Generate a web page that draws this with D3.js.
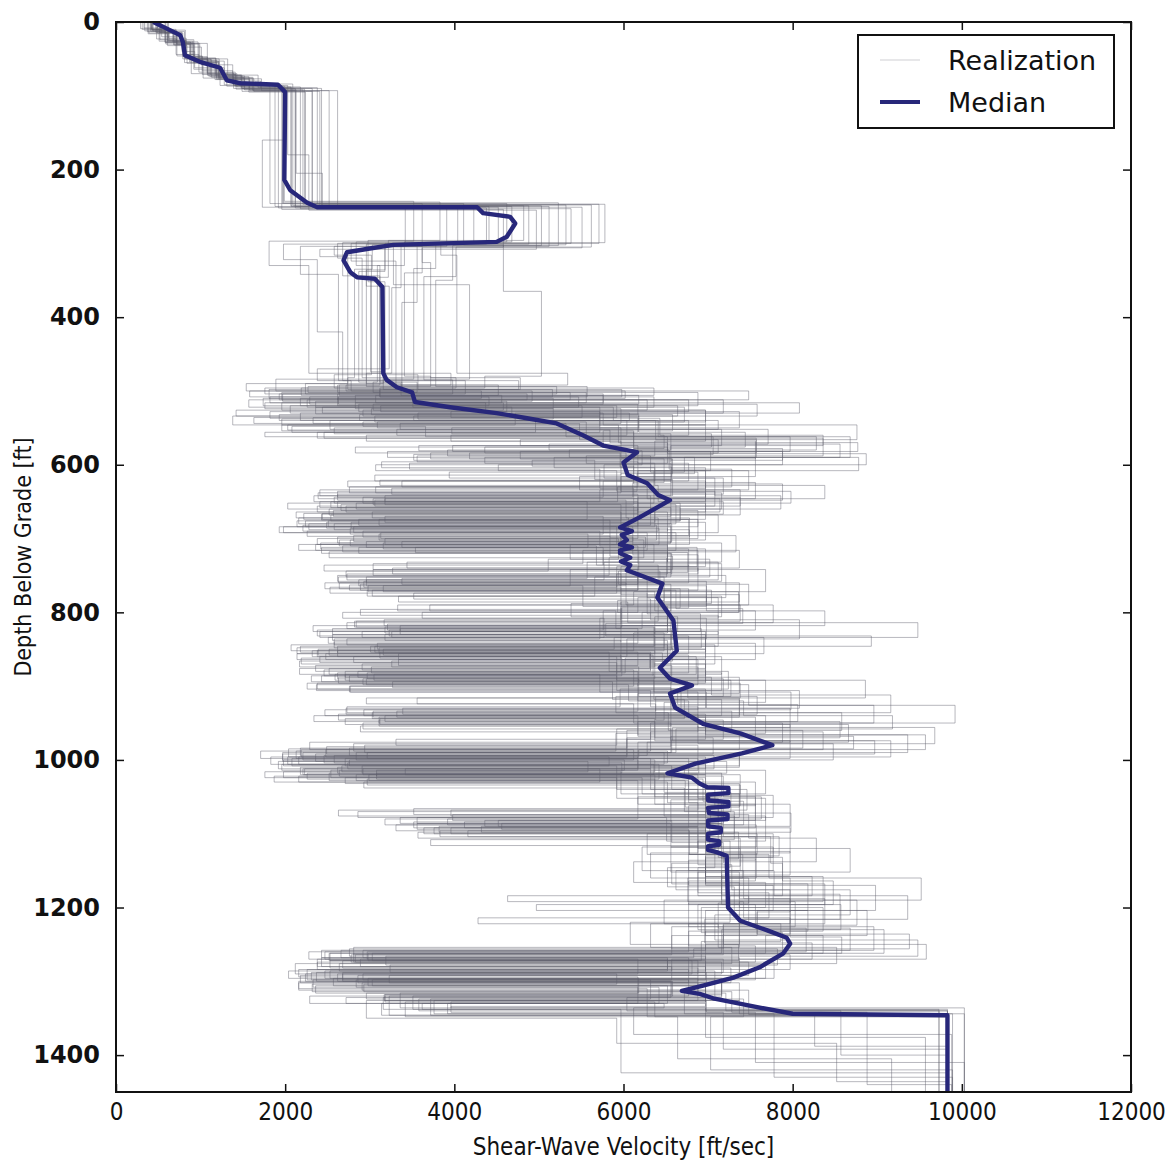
<!DOCTYPE html>
<html>
<head>
<meta charset="utf-8">
<script src="https://cdn.jsdelivr.net/npm/d3@7"></script>
<style>
  html, body { margin: 0; padding: 0; background: #ffffff; }
  svg { display: block; }
</style>
</head>
<body>
<svg id="chart" width="1174" height="1164"></svg>
<script>
// Axis ticks
const xTicks = [0, 2000, 4000, 6000, 8000, 10000, 12000];
const yTicks = [0, 200, 400, 600, 800, 1000, 1200, 1400];

// Median Vs profile: depth [ft] and velocity [ft/sec]
const medianDepth = [0, 10, 18, 27, 45, 54, 62, 79, 83, 85, 95, 214, 228, 245, 251, 251, 259, 264, 273, 291, 298, 302, 307, 312, 323, 339, 346, 348, 359, 476, 485, 495, 502, 515, 522, 530, 537, 544, 560, 574, 583, 597, 614, 625, 641, 648, 671, 685, 690, 695, 702, 708, 712, 716, 720, 726, 731, 736, 743, 761, 780, 811, 852, 875, 890, 899, 910, 929, 951, 964, 980, 991, 1005, 1018, 1024, 1032, 1037, 1038, 1045, 1047, 1055, 1057, 1063, 1065, 1072, 1074, 1080, 1082, 1090, 1092, 1098, 1100, 1108, 1110, 1115, 1117, 1122, 1125, 1130, 1200, 1218, 1231, 1241, 1249, 1262, 1281, 1295, 1306, 1313, 1317, 1323, 1335, 1344, 1346, 1450];
const medianVs = [440, 620, 760, 790, 815, 990, 1230, 1310, 1470, 1915, 2000, 1990, 2060, 2260, 2380, 4270, 4340, 4660, 4720, 4620, 4500, 3280, 3000, 2730, 2690, 2770, 2850, 3060, 3150, 3160, 3200, 3320, 3500, 3535, 3950, 4500, 4860, 5210, 5520, 5760, 6160, 6000, 6050, 6280, 6410, 6550, 6195, 5960, 6100, 5980, 6040, 5960, 6100, 5960, 5960, 6080, 5970, 6080, 6040, 6460, 6400, 6590, 6630, 6430, 6550, 6810, 6550, 6610, 6940, 7380, 7760, 7400, 6850, 6520, 6810, 6900, 6990, 7240, 7240, 7000, 7000, 7240, 7240, 7000, 7010, 7230, 7230, 7000, 7000, 7150, 7150, 7000, 7000, 7130, 7130, 7000, 7000, 7100, 7220, 7236, 7380, 7700, 7930, 7970, 7890, 7610, 7300, 6940, 6690, 6900, 7060, 7580, 8000, 9830, 9830];

// Randomized profiles, "layerTopDepth:velocity" (velocity in tens of ft/sec).
// Shallow part: soil column down to the rock transition
const shallowLayers = [
  "0:42 10:63 25:82 48:108 70:143 88:207 250:468 298:284 330:312",
  "0:51 14:71 30:88 52:103 76:152 92:198 245:523 303:337 360:326",
  "0:33 8:54 20:78 40:93 62:128 85:192 252:404 300:262 320:291",
  "0:58 15:79 34:101 58:138 80:171 90:243 248:562 305:402 345:364",
  "0:44 12:68 26:91 50:122 74:157 95:224 244:383 296:298 352:318",
  "0:49 9:62 22:83 44:98 68:141 86:203 180:228 255:497 308:241 318:274",
  "0:38 16:61 32:84 56:117 78:149 94:232 250:441 300:356 380:338",
  "0:61 11:82 27:97 50:132 72:168 89:238 247:571 300:384 316:403",
  "0:41 13:59 30:87 54:111 74:139 90:201 160:173 251:342 302:303 335:282",
  "0:31 10:52 24:72 46:89 70:131 87:182 246:362 304:218 342:263",
  "0:52 14:78 29:93 52:119 76:161 92:213 205:244 249:482 296:322 346:301",
  "0:43 12:62 26:79 50:112 72:148 88:218 253:423 300:278 324:331",
  "0:48 10:71 24:92 46:102 66:138 84:209 248:532 302:378 334:352",
  "0:39 15:69 31:81 55:121 75:162 93:252 251:551 306:362 340:341",
  "0:53 12:59 28:89 49:118 71:142 91:197 246:462 298:341 330:309",
  "0:29 9:48 23:71 44:92 64:123 86:188 250:391 304:258 316:302",
  "0:62 13:81 29:108 53:128 77:172 93:262 249:503 303:398 350:378",
  "0:41 11:58 27:88 51:109 73:148 90:212 252:438 301:296 358:323",
  "0:47 14:72 30:98 54:122 76:158 92:221 247:578 299:362 326:372",
  "0:42 10:61 25:83 47:108 69:139 86:196 254:458 305:318 336:296",
  "0:53 11:67 27:82 49:118 73:152 89:207 249:488 301:198 322:238 420:268",
  "0:37 13:58 28:91 51:113 75:151 91:223 246:411 302:458 365:503",
  "0:59 12:72 29:99 53:121 77:163 94:241 253:538 300:318 338:287",
  "0:43 10:51 26:79 47:102 71:141 87:199 243:352 297:181 330:228",
  "0:49 15:68 31:92 55:119 78:158 93:212 250:512 304:328 356:418",
  "0:34 12:61 27:82 50:108 72:149 90:232 251:452 299:268 344:312"
];

// Deep part: thinly layered rock down to the half-space
const deepLayers = [
  "488:338 500:158 508:547 522:236 531:618 550:397 558:704 576:283 584:596 603:657 621:312 628:641 650:718 667:243 675:584 698:626 712:354 719:676 746:603 763:276 770:662 795:741 815:579 832:893 846:262 855:646 878:697 896:238 904:664 925:806 948:617 968:872 985:204 996:583 1008:291 1018:657 1040:746 1068:396 1076:718 1104:784 1130:697 1158:823 1184:463 1192:742 1214:797 1240:858 1262:303 1272:681 1290:224 1300:716 1322:604 1340:983",
  "476:296 494:521 504:197 514:462 528:182 537:643 560:836 574:358 581:622 600:577 618:718 640:262 648:603 672:641 690:226 697:584 724:658 742:304 750:721 780:617 800:362 808:698 836:604 860:281 868:637 890:296 898:606 920:742 940:918 958:662 990:221 1000:601 1014:264 1022:718 1050:763 1080:318 1088:702 1120:738 1150:662 1176:797 1206:758 1236:938 1256:683 1268:243 1280:697 1298:284 1308:642 1330:362 1338:983",
  "482:402 496:219 506:618 518:304 526:697 546:203 553:584 570:877 582:478 592:658 612:597 636:798 652:284 660:617 684:198 692:662 716:576 736:246 744:643 770:704 788:538 806:664 826:241 834:697 862:602 882:262 890:718 914:638 934:304 942:697 966:957 986:618 996:183 1006:642 1026:297 1034:738 1062:703 1092:364 1100:758 1128:677 1150:742 1188:838 1222:718 1250:958 1270:657 1286:204 1296:618 1316:296 1324:742 1348:703 1420:989",
  "485:398 504:262 512:718 530:357 538:496 556:238 564:757 590:518 604:697 628:838 646:318 654:662 680:258 688:678 708:537 728:702 752:296 760:603 790:738 812:282 820:637 846:218 854:583 880:617 900:277 908:698 930:797 956:658 974:897 992:236 1002:558 1016:198 1024:622 1046:697 1072:798 1098:357 1106:738 1144:697 1170:898 1204:797 1236:718 1264:278 1274:778 1296:257 1306:697 1328:396 1336:1003",
  "478:357 498:598 508:182 516:437 530:218 540:638 566:757 584:418 592:657 616:548 634:738 656:238 664:597 686:277 694:558 712:243 720:657 748:617 770:297 778:698 798:838 818:597 840:258 848:658 866:217 874:618 896:738 916:296 924:638 946:718 972:657 990:297 998:677 1010:218 1020:738 1046:697 1074:398 1082:657 1112:718 1140:657 1168:838 1196:497 1204:818 1232:677 1260:297 1270:718 1288:237 1300:657 1318:317 1326:698 1342:718 1392:983",
  "490:224 504:486 512:157 522:572 534:138 546:594 570:652 585:887 600:612 622:274 630:628 646:714 664:213 672:606 696:733 718:252 726:651 752:566 778:334 786:605 814:948 834:589 850:316 858:635 886:231 894:587 918:672 944:271 952:866 976:628 994:246 1004:689 1018:252 1028:673 1064:712 1096:383 1104:774 1140:788 1184:726 1220:608 1250:736 1272:268 1282:688 1300:216 1310:628 1348:983",
  "496:312 508:441 520:206 530:607 540:253 552:771 572:512 580:654 606:728 630:593 650:254 658:667 676:214 684:611 704:338 712:687 738:592 766:253 774:628 802:691 826:326 834:648 852:232 860:686 884:271 892:727 914:591 936:653 960:812 984:276 994:707 1012:223 1020:648 1044:727 1070:286 1078:651 1110:726 1146:688 1180:772 1214:428 1222:786 1246:692 1272:253 1282:727 1302:291 1312:748 1345:826 1388:983",
  "476:534 492:272 500:748 512:351 522:672 542:292 548:366 562:868 590:672 610:394 618:708 642:786 660:252 668:712 692:313 700:594 728:511 744:272 752:648 784:593 800:652 826:291 834:766 856:214 864:688 890:292 898:748 926:992 950:632 972:331 980:688 1002:192 1012:572 1030:293 1038:672 1070:731 1100:628 1128:772 1160:952 1190:648 1222:712 1254:852 1276:212 1290:592 1304:232 1314:672 1344:983",
  "482:274 498:352 510:174 520:551 536:233 544:548 566:712 584:372 592:648 624:611 644:292 652:667 676:251 684:592 708:236 716:688 744:594 762:748 790:333 798:591 822:692 848:311 856:631 876:252 884:572 908:688 932:293 940:768 964:591 988:213 998:632 1012:292 1020:688 1052:712 1084:412 1092:688 1126:632 1160:748 1194:712 1228:868 1258:292 1268:652 1286:253 1296:688 1320:351 1338:973",
  "486:413 504:193 512:628 526:292 534:572 556:176 562:652 582:788 600:452 608:592 636:708 656:272 664:652 690:292 698:611 722:688 748:273 756:628 780:712 808:572 836:273 844:708 870:291 878:612 900:276 908:668 934:728 958:592 980:294 990:648 1006:196 1014:768 1046:648 1076:731 1108:372 1116:708 1146:652 1172:731 1204:888 1238:768 1262:252 1272:688 1290:292 1298:708 1322:272 1330:648 1336:612 1372:988",
  "474:316 490:154 500:492 514:236 522:588 540:712 552:332 560:648 578:612 600:307 608:748 634:572 650:262 658:632 682:221 690:572 710:652 732:344 740:688 770:648 796:289 804:712 830:318 838:652 860:241 868:592 892:886 916:356 924:612 950:788 976:229 986:612 1000:198 1008:592 1040:708 1066:352 1074:748 1106:828 1138:612 1166:768 1200:692 1234:788 1260:247 1270:652 1284:226 1298:632 1324:372 1346:983",
  "492:452 506:283 516:808 530:472 546:196 554:612 576:652 598:347 606:572 632:612 654:266 662:688 684:193 692:628 716:552 734:304 742:768 772:612 790:371 798:652 828:612 852:238 860:592 884:259 892:768 922:648 946:311 954:688 978:848 1000:276 1008:672 1022:216 1030:652 1058:688 1090:432 1098:712 1132:788 1164:848 1196:688 1230:908 1262:281 1274:748 1292:323 1302:688 1326:296 1350:592 1384:852 1436:983",
  "484:189 500:432 510:262 520:592 536:163 544:532 562:828 580:392 588:632 610:688 634:241 642:632 666:222 674:688 700:318 708:652 732:712 756:287 764:552 792:652 818:233 826:712 846:301 854:632 878:246 886:592 906:808 930:339 938:688 962:632 988:171 998:688 1014:254 1024:592 1052:768 1082:452 1090:688 1120:868 1152:688 1184:748 1222:632 1254:728 1276:264 1286:708 1304:293 1314:728 1342:888 1440:988",
  "480:372 494:227 502:688 520:313 528:572 548:208 556:612 578:788 594:492 602:612 626:788 648:306 656:612 678:249 686:652 710:268 718:652 748:592 774:352 782:632 810:808 836:258 844:652 866:326 874:688 898:237 906:632 928:688 956:968 978:281 988:652 1004:274 1012:632 1040:688 1068:263 1076:768 1110:688 1142:728 1176:868 1210:708 1244:948 1266:319 1278:768 1296:298 1306:652 1330:392 1344:1003",
  "488:304 502:537 512:226 522:468 532:193 540:641 562:706 586:352 594:566 620:658 642:234 650:557 674:311 682:639 702:277 710:568 736:641 760:264 768:667 794:598 820:318 828:648 848:214 856:632 880:286 888:704 912:916 936:303 944:637 970:706 992:197 1002:722 1018:308 1026:694 1056:742 1088:331 1096:678 1128:741 1160:676 1192:803 1226:657 1256:782 1278:324 1288:698 1306:236 1316:721 1340:857 1400:983",
  "478:258 496:636 506:307 516:458 526:142 534:618 556:744 576:436 584:603 608:697 632:326 640:617 662:257 670:576 694:311 702:624 726:583 750:262 758:698 786:641 812:284 820:636 846:306 854:617 872:236 880:724 904:596 928:273 936:858 960:604 984:218 994:737 1010:262 1018:716 1050:617 1080:392 1088:757 1118:622 1150:778 1184:936 1216:696 1248:823 1270:238 1280:657 1298:303 1306:697 1328:342 1348:664 1405:917",
  "494:557 508:263 518:758 534:352 540:604 560:296 568:597 590:878 608:636 630:307 638:716 660:637 678:278 686:642 708:216 716:618 742:537 764:298 772:736 800:622 822:256 830:697 854:312 862:598 886:243 894:676 916:737 940:318 948:856 970:604 994:258 1004:598 1018:226 1026:637 1060:797 1090:382 1098:736 1134:697 1168:818 1204:758 1238:657 1264:283 1274:716 1290:262 1300:658 1320:323 1346:983",
  "470:238 486:476 498:181 510:517 524:302 532:658 554:576 574:398 582:703 608:617 630:276 638:697 664:303 672:678 698:262 706:716 732:577 756:296 764:698 792:597 816:321 824:657 850:239 858:677 882:297 890:618 914:758 938:263 946:697 972:604 996:203 1006:636 1020:284 1028:677 1058:718 1086:356 1094:697 1126:757 1160:716 1196:857 1230:716 1262:298 1272:737 1292:218 1302:697 1324:358 1340:973",
  "482:478 498:312 508:636 522:244 530:576 546:876 566:478 574:617 598:677 622:338 630:636 652:203 660:637 684:281 692:597 716:737 740:327 748:597 776:737 800:268 808:577 834:251 842:756 864:334 872:657 896:226 904:697 930:656 954:289 962:737 986:219 996:697 1012:342 1020:637 1050:756 1082:436 1090:697 1124:797 1156:716 1190:876 1224:718 1256:276 1266:697 1286:247 1296:716 1318:318 1326:737 1344:778 1430:989",
  "490:337 506:576 516:283 524:517 538:196 546:697 568:637 588:356 596:617 620:656 642:318 650:617 672:216 680:657 704:296 712:576 736:677 760:247 768:677 794:597 822:336 830:656 852:262 860:716 884:305 892:636 918:716 940:234 948:637 974:797 998:271 1008:657 1022:187 1030:756 1062:677 1092:396 1100:716 1134:756 1164:677 1196:756 1228:816 1260:228 1270:617 1290:268 1300:656 1322:316 1338:597 1424:983",
  "486:278 500:602 510:218 520:664 534:306 542:556 562:797 582:321 590:684 612:616 636:262 644:738 668:254 676:617 700:238 708:636 732:557 754:338 762:656 790:777 814:273 822:617 842:309 850:697 876:217 884:636 908:798 932:247 940:617 966:936 990:284 1000:637 1016:176 1024:697 1054:656 1084:352 1092:797 1126:697 1158:836 1192:737 1226:896 1258:243 1268:737 1288:268 1298:677 1320:229 1330:697 1340:983",
  "480:436 496:176 504:576 518:287 528:737 550:258 558:656 580:536 590:756 616:597 638:239 646:656 670:318 678:697 702:264 710:617 734:716 758:293 766:597 790:656 818:336 826:697 850:252 858:597 880:271 888:737 910:617 934:332 942:756 968:656 990:197 1000:617 1014:308 1022:677 1054:716 1086:456 1094:677 1128:716 1160:797 1194:677 1226:737 1254:281 1264:797 1284:216 1294:617 1316:336 1336:697 1376:957",
  "488:356 502:196 512:677 528:396 536:617 556:246 564:836 588:556 598:656 624:756 646:304 654:597 676:224 684:656 706:316 714:697 738:617 762:289 770:656 798:576 824:238 832:677 856:334 864:656 888:263 896:617 920:677 944:312 952:797 976:617 998:208 1008:677 1024:271 1032:737 1064:697 1096:416 1104:756 1136:677 1170:777 1204:697 1238:836 1262:253 1272:697 1292:286 1302:737 1326:376 1344:989",
  "476:396 492:262 502:556 516:176 524:597 544:336 552:716 574:656 596:314 604:637 628:697 650:241 658:656 680:228 688:597 712:287 720:656 746:617 770:303 778:716 806:637 830:256 838:597 862:219 870:697 894:327 902:656 926:896 950:292 958:656 982:249 992:737 1008:267 1016:597 1046:737 1078:356 1086:716 1118:656 1152:737 1188:797 1222:677 1252:756 1274:238 1284:677 1302:216 1312:697 1334:396 1342:756 1410:1003",
  "484:316 498:516 508:229 518:617 532:288 540:677 560:396 568:756 592:597 614:306 622:697 644:617 666:244 674:677 696:281 704:597 728:656 752:263 760:737 786:597 810:317 818:656 844:207 852:637 874:302 882:716 906:656 930:272 938:697 962:836 986:248 996:617 1012:221 1020:697 1048:777 1078:336 1086:656 1118:777 1150:716 1182:856 1216:737 1250:697 1270:289 1280:756 1298:233 1308:617 1330:314 1346:983",
  "492:264 506:456 516:196 526:697 542:309 550:597 572:856 590:436 598:637 622:576 644:258 652:697 674:287 682:656 706:242 714:677 738:597 764:316 772:637 798:756 824:323 832:637 856:248 864:697 886:276 894:656 918:737 942:311 950:656 974:916 996:216 1006:697 1020:299 1028:617 1060:756 1092:376 1100:777 1132:697 1166:737 1200:836 1232:697 1258:266 1268:677 1288:231 1298:716 1320:318 1328:637 1348:983"
];

const maxDepth = 1450;

const svg = d3.select("#chart");
const x = d3.scaleLinear().domain([0, 12000]).range([116, 1131]);
const y = d3.scaleLinear().domain([0, maxDepth]).range([22, 1092]);

svg.append("defs").append("clipPath").attr("id", "plotClip")
  .append("rect")
  .attr("x", x(0)).attr("y", y(0))
  .attr("width", x(12000) - x(0)).attr("height", y(maxDepth) - y(0));

const plot = svg.append("g").attr("clip-path", "url(#plotClip)");

// parse each profile into layer tops and extend the last layer to the bottom
const profiles = shallowLayers.map((s, i) => {
  const layers = (s + " " + deepLayers[i]).trim().split(/\s+/).map(p => {
    const [d, v] = p.split(":");
    return { d: +d, v: +v * 10 };
  });
  layers.push({ d: maxDepth, v: layers[layers.length - 1].v });
  return layers;
});

const stepLine = d3.line()
  .x(p => x(p.v))
  .y(p => y(p.d))
  .curve(d3.curveStepBefore);

const realStroke = "#5e5e6c";
const realOpacity = 0.44;

plot.append("g")
  .selectAll("path")
  .data(profiles)
  .join("path")
  .attr("d", stepLine)
  .attr("fill", "none")
  .attr("stroke", realStroke)
  .attr("stroke-opacity", realOpacity)
  .attr("stroke-width", 1);

// median
const medianPts = medianDepth.map((d, i) => ({ d, v: medianVs[i] }));
const medianColor = "#27277a";
plot.append("path")
  .datum(medianPts)
  .attr("d", d3.line().x(p => x(p.v)).y(p => y(p.d)))
  .attr("fill", "none")
  .attr("stroke", medianColor)
  .attr("stroke-width", 4.4)
  .attr("stroke-linejoin", "round");

// axes with inward ticks on all four sides
const fmt = d3.format("d");
const condensed = "'DejaVu Sans Condensed', 'DejaVu Sans', sans-serif";

const xAxisB = svg.append("g")
  .attr("transform", `translate(0,${y(maxDepth)})`)
  .call(d3.axisBottom(x).tickValues(xTicks).tickSize(-8).tickPadding(11).tickFormat(fmt));
xAxisB.selectAll("text")
  .style("font-family", condensed)
  .style("font-stretch", "condensed")
  .style("font-size", "24px")
  .attr("fill", "#111");

const xAxisT = svg.append("g")
  .attr("transform", `translate(0,${y(0)})`)
  .call(d3.axisTop(x).tickValues(xTicks).tickSize(-8).tickFormat(""));

const yAxisL = svg.append("g")
  .attr("transform", `translate(${x(0)},0)`)
  .call(d3.axisLeft(y).tickValues(yTicks).tickSize(-8).tickPadding(16).tickFormat(fmt));
yAxisL.selectAll("text")
  .style("font-family", "'DejaVu Sans', sans-serif")
  .style("font-weight", "bold")
  .style("font-size", "24px")
  .attr("fill", "#111");

const yAxisR = svg.append("g")
  .attr("transform", `translate(${x(12000)},0)`)
  .call(d3.axisRight(y).tickValues(yTicks).tickSize(-8).tickFormat(""));

[xAxisB, xAxisT, yAxisL, yAxisR].forEach(g => {
  g.select(".domain").remove();
  g.selectAll(".tick line").attr("stroke", "#111").attr("stroke-width", 1.5);
});

// frame
svg.append("rect")
  .attr("x", x(0)).attr("y", y(0))
  .attr("width", x(12000) - x(0)).attr("height", y(maxDepth) - y(0))
  .attr("fill", "none").attr("stroke", "#111").attr("stroke-width", 2);

// axis titles
svg.append("text")
  .attr("x", (x(0) + x(12000)) / 2).attr("y", 1155)
  .attr("text-anchor", "middle")
  .style("font-family", condensed).style("font-stretch", "condensed")
  .style("font-size", "24px").attr("fill", "#111")
  .text("Shear-Wave Velocity [ft/sec]");

svg.append("text")
  .attr("transform", `translate(31,${(y(0) + y(maxDepth)) / 2}) rotate(-90)`)
  .attr("text-anchor", "middle")
  .style("font-family", condensed).style("font-stretch", "condensed")
  .style("font-size", "23px").attr("fill", "#111")
  .text("Depth Below Grade [ft]");

// legend
const legend = svg.append("g").attr("transform", "translate(858,35)");
legend.append("rect")
  .attr("width", 256).attr("height", 93)
  .attr("fill", "#fff").attr("stroke", "#111").attr("stroke-width", 2);
const legendItems = [
  { label: "Realization", stroke: realStroke, opacity: 0.3, width: 1, yy: 25 },
  { label: "Median", stroke: medianColor, opacity: 1, width: 4, yy: 67 }
];
legendItems.forEach(it => {
  legend.append("line")
    .attr("x1", 22).attr("x2", 62).attr("y1", it.yy).attr("y2", it.yy)
    .attr("stroke", it.stroke).attr("stroke-opacity", it.opacity).attr("stroke-width", it.width);
  legend.append("text")
    .attr("x", 90).attr("y", it.yy + 10)
    .style("font-family", "'DejaVu Sans', sans-serif")
    .style("font-size", "27px").attr("fill", "#111")
    .text(it.label);
});
</script>
</body>
</html>
